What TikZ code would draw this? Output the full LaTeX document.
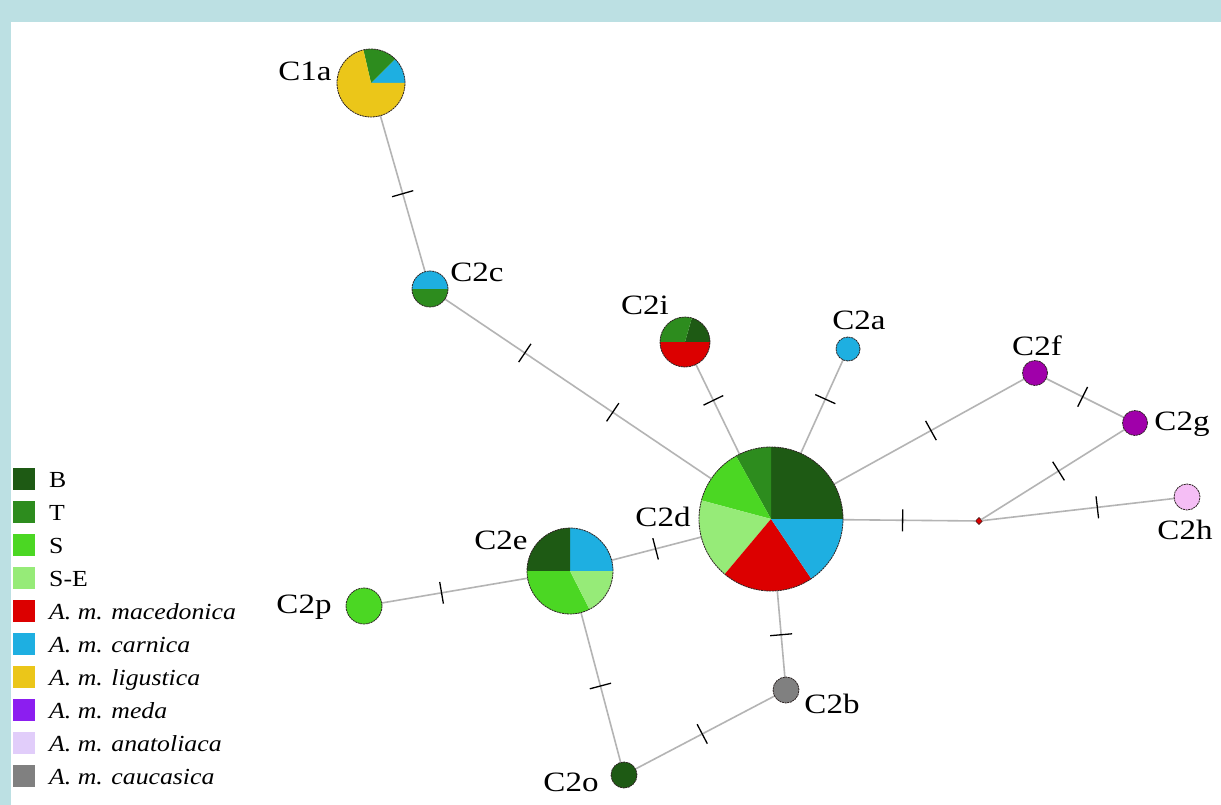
\documentclass[tikz,border=0pt]{standalone}
\usepackage{fontspec}
\setmainfont{Liberation Serif}[FakeStretch=1.18]
\newfontfamily\legfont{Liberation Serif}[FakeStretch=1.12]
\usetikzlibrary{decorations.markings}

% haplogroup / region colours
\definecolor{colB}{RGB}{30,90,20}
\definecolor{colT}{RGB}{45,140,30}
\definecolor{colS}{RGB}{75,215,35}
\definecolor{colSE}{RGB}{150,235,120}
\definecolor{colMac}{RGB}{220,0,0}
\definecolor{colCar}{RGB}{30,175,225}
\definecolor{colLig}{RGB}{235,198,25}
\definecolor{colMeda}{RGB}{140,30,240}
\definecolor{colMedaNode}{RGB}{160,0,170}
\definecolor{colAnat}{RGB}{225,205,250}
\definecolor{colAnatNode}{RGB}{245,190,245}
\definecolor{colCauc}{RGB}{128,128,128}
\definecolor{framecol}{RGB}{188,224,227}
\definecolor{edgecol}{RGB}{180,180,180}
\definecolor{ringcol}{RGB}{45,35,35}

% pie chart on a named node: node, radius, list of start/end/colour
\newcommand\hapPie[3]{%
  \foreach \a/\b/\c in {#3}{%
    \fill[\c] (#1.center) -- ++(\a:#2) arc[start angle=\a, end angle=\b, radius=#2] -- cycle;}
  \draw[ring] (#1.center) circle[radius=#2];}

\begin{document}
\begin{tikzpicture}[x=1pt,y=1pt,
  hap/.style={circle, inner sep=0pt, outer sep=0pt, minimum size=#1},
  ring/.style={draw=ringcol, line width=0.8pt, dash pattern=on 2pt off 0.7pt},
  edge/.style={draw=edgecol, line width=1.6pt},
  mutline/.style={draw=black, line width=1.3pt},
  tick/.style={postaction={decorate}, decoration={markings,
      mark=at position #1 with {\draw[mutline] (0,-11pt) -- (0,11pt);}}},
  twoticks/.style 2 args={postaction={decorate}, decoration={markings,
      mark=at position #1 with {\draw[mutline] (0,-11pt) -- (0,11pt);},
      mark=at position #2 with {\draw[mutline] (0,-11pt) -- (0,11pt);}}},
  lab/.style={font=\fontsize{28}{32}\selectfont, inner sep=0pt, anchor=base},
  legtext/.style={font=\legfont\fontsize{23}{26}\selectfont, inner sep=0pt, anchor=base west},
  legbox/.style={minimum size=22pt, inner sep=0pt, outer sep=0pt}]

% frame and canvas
\fill[framecol] (0,0) rectangle (1221,-805);
\fill[white] (11,-22) rectangle (1221,-805);
\useasboundingbox (0,0) rectangle (1221,-805);

% haplotype nodes
\node[hap=68pt]  (C1a) at (371,-83) {};
\node[hap=36pt]  (C2c) at (430,-289) {};
\node[hap=50pt]  (C2i) at (685,-342) {};
\node[hap=24pt]  (C2a) at (848,-349) {};
\node[hap=25pt]  (C2f) at (1035,-373) {};
\node[hap=25pt]  (C2g) at (1135,-423) {};
\node[hap=26pt]  (C2h) at (1187,-497) {};
\node[hap=144pt] (C2d) at (771,-519) {};
\node[hap=86pt]  (C2e) at (570,-571) {};
\node[hap=36pt]  (C2p) at (364,-606) {};
\node[hap=26pt]  (C2b) at (786,-690) {};
\node[hap=26pt]  (C2o) at (624,-775) {};
\node[rectangle, rotate=45, minimum size=5pt, inner sep=0pt, outer sep=0pt,
      fill=colMac, draw=ringcol, line width=0.5pt] (mv) at (979,-521) {};

% connections with mutation ticks
\draw[edge, tick=0.5]  (C1a) -- (C2c);
\draw[edge, twoticks={0.30}{0.63}] (C2c) -- (C2d);
\draw[edge, tick=0.40] (C2i) -- (C2d);
\draw[edge, tick=0.42] (C2a) -- (C2d);
\draw[edge, tick=0.49] (C2f) -- (C2d);
\draw[edge, tick=0.47] (C2f) -- (C2g);
\draw[edge, tick=0.46] (C2g) -- (mv);
\draw[edge, tick=0.60] (mv) -- (C2h);
\draw[edge, tick=0.45] (C2d) -- (mv);
\draw[edge, tick=0.51] (C2d) -- (C2e);
\draw[edge, tick=0.59] (C2e) -- (C2p);
\draw[edge, tick=0.49] (C2e) -- (C2o);
\draw[edge, tick=0.51] (C2d) -- (C2b);
\draw[edge, tick=0.52] (C2b) -- (C2o);

% pie charts
\hapPie{C1a}{34pt}{0/45/colCar, 45/103/colT, 103/360/colLig}
\hapPie{C2c}{18pt}{0/180/colCar, 180/360/colT}
\hapPie{C2i}{25pt}{0/74/colB, 74/180/colT, 180/360/colMac}
\hapPie{C2d}{72pt}{0/90/colB, 90/119/colT, 119/165/colS, 165/230/colSE, 230/304/colMac, 304/360/colCar}
\hapPie{C2e}{43pt}{0/90/colCar, 90/180/colB, 180/297/colS, 297/360/colSE}
\hapPie{C2a}{12pt}{0/360/colCar}
\hapPie{C2f}{12.5pt}{0/360/colMedaNode}
\hapPie{C2g}{12.5pt}{0/360/colMedaNode}
\hapPie{C2h}{13pt}{0/360/colAnatNode}
\hapPie{C2p}{18pt}{0/360/colS}
\hapPie{C2b}{13pt}{0/360/colCauc}
\hapPie{C2o}{13pt}{0/360/colB}

% haplotype labels
\node[lab] (tC1a) at (305,-81)  {C1a};
\node[lab] (tC2c) at (477,-281) {C2c};
\node[lab] (tC2i) at (645,-314) {C2i};
\node[lab] (tC2a) at (859,-329) {C2a};
\node[lab] (tC2f) at (1037,-355) {C2f};
\node[lab] (tC2g) at (1182,-430) {C2g};
\node[lab] (tC2h) at (1185,-539) {C2h};
\node[lab] (tC2d) at (663,-526) {C2d};
\node[lab] (tC2e) at (501,-549) {C2e};
\node[lab] (tC2p) at (304,-613) {C2p};
\node[lab] (tC2b) at (832,-713) {C2b};
\node[lab] (tC2o) at (571,-791) {C2o};

% legend
\foreach \n/\c/\t [count=\i from 0] in {
    gB/colB/B, gT/colT/T, gS/colS/S, gSE/colSE/S-E,
    gMac/colMac/\textit{A. m. macedonica}, gCar/colCar/\textit{A. m. carnica},
    gLig/colLig/\textit{A. m. ligustica}, gMeda/colMeda/\textit{A. m. meda},
    gAnat/colAnat/\textit{A. m. anatoliaca}, gCauc/colCauc/\textit{A. m. caucasica}}{
  \node[legbox, fill=\c] (\n) at (24,-479-33*\i) {};
  \node[legtext] (\n t) at (49,-487-33*\i) {\t};
}
\end{tikzpicture}
\end{document}
